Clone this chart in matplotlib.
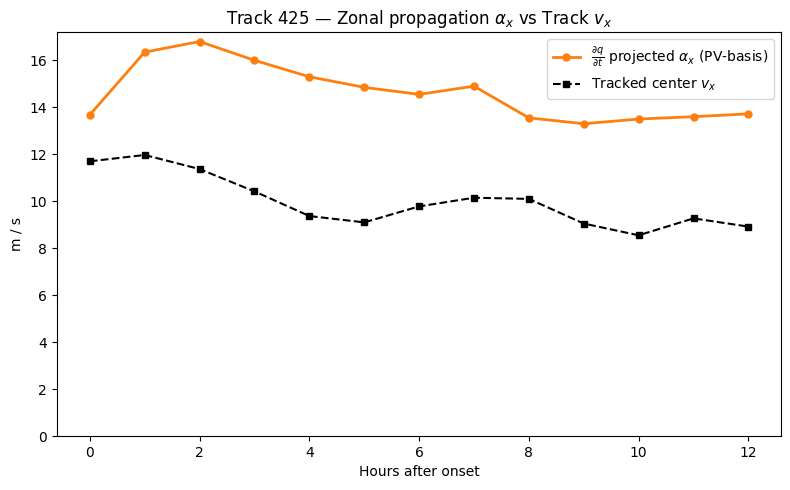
import matplotlib
matplotlib.use("Agg")
import matplotlib.pyplot as plt

hours = list(range(13))
alpha_x = [13.68, 16.35, 16.8, 16.0, 15.3, 14.85, 14.55, 14.9, 13.55, 13.3, 13.5, 13.6, 13.72]
v_x = [11.7, 11.97, 11.37, 10.42, 9.37, 9.1, 9.78, 10.15, 10.1, 9.05, 8.55, 9.27, 8.92]

fig, ax = plt.subplots(figsize=(7.9, 4.9), dpi=100)
ax.plot(hours, alpha_x, color="#ff7f0e", marker="o", linestyle="-",
        linewidth=2, markersize=5,
        label=r"$\frac{\partial q}{\partial t}$ projected $\alpha_x$ (PV-basis)")
ax.plot(hours, v_x, color="black", marker="s", linestyle="--",
        linewidth=1.5, markersize=5, label=r"Tracked center $v_x$")
ax.set_ylim(bottom=0)
ax.set_xlabel("Hours after onset")
ax.set_ylabel("m / s")
ax.set_title(r"Track 425 — Zonal propagation $\alpha_x$ vs Track $v_x$")
ax.legend(loc="upper right")
fig.subplots_adjust(left=0.072, right=0.989, top=0.935, bottom=0.110)
fig.savefig("out.png")
